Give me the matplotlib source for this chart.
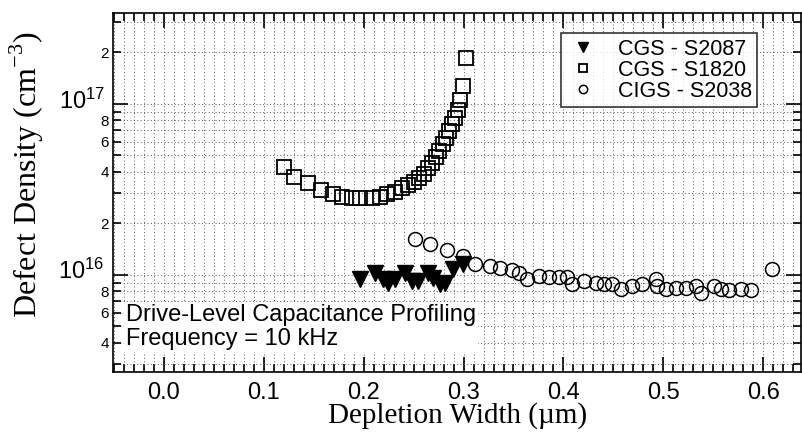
import matplotlib
matplotlib.use("Agg")
import matplotlib.pyplot as plt
import matplotlib.transforms as mtransforms
from matplotlib.ticker import LogLocator, MultipleLocator, FixedLocator, FixedFormatter
import numpy as np

# depletion width (um) / defect density (cm^-3)
cgs2087_x = [0.196, 0.211, 0.219, 0.224, 0.231, 0.241, 0.248, 0.254, 0.264, 0.269,
             0.276, 0.281, 0.289, 0.299]
cgs2087_y = [0.95e16, 1.03e16, 0.95e16, 0.89e16, 0.95e16, 1.03e16, 0.92e16, 0.92e16,
             1.03e16, 0.96e16, 0.88e16, 0.89e16, 1.08e16, 1.16e16]

cgs1820_x = [0.120, 0.130, 0.144, 0.157, 0.169, 0.178, 0.188, 0.196, 0.208, 0.216,
             0.223, 0.231, 0.238, 0.244, 0.250, 0.255, 0.260, 0.264, 0.268, 0.272,
             0.275, 0.279, 0.282, 0.285, 0.288, 0.291, 0.294, 0.296, 0.299, 0.302]
cgs1820_y = [4.3e16, 3.75e16, 3.45e16, 3.15e16, 2.95e16, 2.85e16, 2.8e16, 2.8e16, 2.8e16, 2.85e16,
             2.95e16, 3.05e16, 3.2e16, 3.35e16, 3.5e16, 3.7e16, 3.9e16, 4.2e16, 4.5e16, 4.9e16,
             5.3e16, 5.8e16, 6.3e16, 6.9e16, 7.6e16, 8.3e16, 9.2e16, 1.05e17, 1.28e17, 1.85e17]

cigs2038_x = [0.251, 0.266, 0.283, 0.299, 0.311, 0.326, 0.336, 0.348, 0.356, 0.364,
              0.376, 0.386, 0.396, 0.404, 0.409, 0.421, 0.433, 0.441, 0.449, 0.458,
              0.469, 0.479, 0.493, 0.494, 0.503, 0.513, 0.523, 0.533, 0.538, 0.551,
              0.558, 0.566, 0.578, 0.588, 0.609]
cigs2038_y = [1.62e16, 1.51e16, 1.39e16, 1.29e16, 1.155e16, 1.13e16, 1.10e16, 1.065e16, 1.02e16, 0.947e16,
              0.987e16, 0.965e16, 0.965e16, 0.965e16, 0.886e16, 0.92e16, 0.90e16, 0.886e16, 0.886e16, 0.83e16,
              0.86e16, 0.886e16, 0.947e16, 0.86e16, 0.83e16, 0.84e16, 0.84e16, 0.86e16, 0.78e16, 0.86e16,
              0.82e16, 0.81e16, 0.83e16, 0.81e16, 1.08e16]

x_ticks = [0.0, 0.1, 0.2, 0.3, 0.4, 0.5, 0.6]
y_major = [1e16, 1e17]
y_major_labels = [r"$\mathregular{10^{16}}$", r"$\mathregular{10^{17}}$"]
y_minor_labeled = [4e15, 6e15, 8e15, 2e16, 4e16, 6e16, 8e16, 2e17]

sans = "Liberation Sans"
serif = "Liberation Serif"
plt.rcParams["mathtext.fontset"] = "custom"
plt.rcParams["mathtext.rm"] = sans

fig = plt.figure(figsize=(8.03, 4.36), dpi=100)
ax = fig.add_axes([0.1407, 0.147, 0.857, 0.823])

ax.set_yscale("log")
ax.set_xlim(-0.051, 0.638)
ax.set_ylim(2.7e15, 3.4e17)

ax.plot(cgs2087_x, cgs2087_y, linestyle="none", marker="v", ms=11, color="black",
        label="CGS - S2087", zorder=5)
ax.plot(cgs1820_x, cgs1820_y, linestyle="none", marker="s", ms=10, mfc="none",
        mec="black", mew=1.3, label="CGS - S1820", zorder=4)
ax.plot(cigs2038_x, cigs2038_y, linestyle="none", marker="o", ms=10, mfc="none",
        mec="black", mew=1.1, label="CIGS - S2038", zorder=4)

# x ticks
ax.xaxis.set_major_locator(FixedLocator(x_ticks))
ax.xaxis.set_minor_locator(MultipleLocator(0.01))
ax.set_xticklabels(["%.1f" % v for v in x_ticks], fontfamily=sans, fontsize=17)

# y ticks: decades plus labelled minor ticks
ax.yaxis.set_major_locator(FixedLocator(y_major))
ax.yaxis.set_major_formatter(FixedFormatter(y_major_labels))
minor_pos = list(LogLocator(base=10, subs=np.arange(2, 10)).tick_values(2.7e15, 3.4e17))
minor_lab = []
for v in minor_pos:
    lab = ""
    for w in y_minor_labeled:
        if abs(v / w - 1) < 1e-6:
            lab = str(int(round(v / 10 ** np.floor(np.log10(v) + 1e-9))))
    minor_lab.append(lab)
ax.yaxis.set_minor_locator(FixedLocator(minor_pos))
ax.yaxis.set_minor_formatter(FixedFormatter(minor_lab))

ax.tick_params(which="both", direction="in", top=True, right=True, width=1.2)
ax.tick_params(which="major", length=11)
ax.tick_params(which="minor", length=5.5)
ax.tick_params(axis="x", which="major", pad=7)
ax.tick_params(axis="y", which="major", pad=6)
ax.tick_params(axis="y", which="minor", pad=3)

up = mtransforms.ScaledTranslation(0, 4 / 72, fig.dpi_scale_trans)
for t in ax.get_yticklabels():
    t.set_fontfamily(sans)
    t.set_fontsize(17)
    t.set_transform(t.get_transform() + up)
for t in ax.get_yticklabels(minor=True):
    t.set_fontfamily(sans)
    t.set_fontsize(11)

ax.grid(True, which="both", linestyle=(0, (1, 2.5)), color="0.35", linewidth=0.7)
ax.set_axisbelow(True)
for s in ax.spines.values():
    s.set_linewidth(1.2)

ax.set_xlabel("Depletion Width (\u00b5m)", fontfamily=serif, fontsize=21)
ax.xaxis.set_label_coords(0.5, -0.085)
ax.set_ylabel("Defect Density (cm$^{\\mathregular{-3}}$)", fontfamily=serif, fontsize=23)
ax.yaxis.set_label_coords(-0.097, 0.55)

ax.text(0.019, 0.125, "Drive-Level Capacitance Profiling\nFrequency = 10 kHz",
        transform=ax.transAxes, fontfamily=sans, fontsize=17, linespacing=1.12,
        va="center", ha="left", zorder=6,
        bbox=dict(facecolor="white", edgecolor="none", pad=1.5))

leg = ax.legend(loc="upper right", bbox_to_anchor=(0.936, 0.944), borderaxespad=0,
                prop={"family": sans, "size": 15.5}, frameon=True, fancybox=False,
                edgecolor="black", markerscale=0.6, handletextpad=0.8, borderpad=0.25,
                labelspacing=0.0, handlelength=1.6)
leg.get_frame().set_linewidth(1.2)
leg.set_zorder(7)

fig.savefig("out.png", dpi=100)
